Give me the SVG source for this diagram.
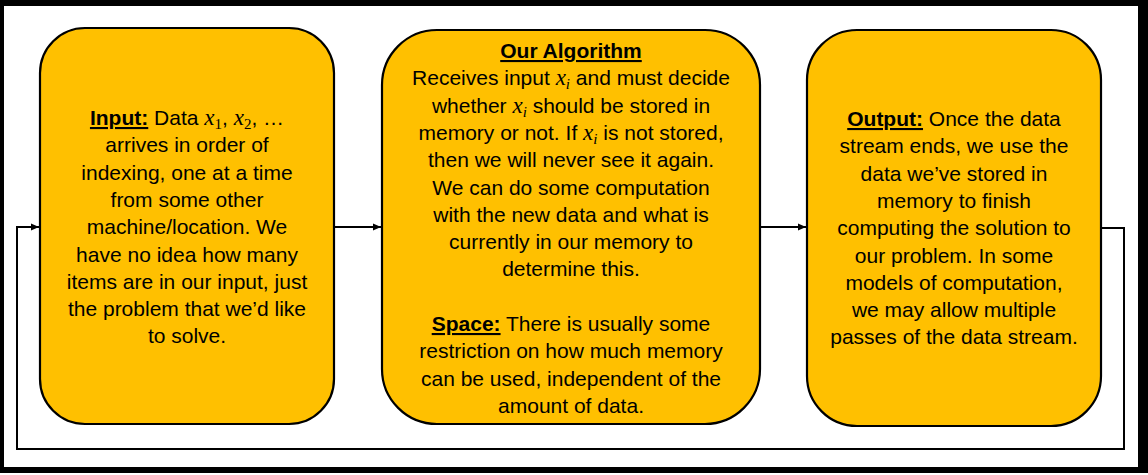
<svg xmlns="http://www.w3.org/2000/svg" width="1148" height="475" viewBox="0 0 1148 475">
<style>
.box{fill:#FFC000;stroke:#000;stroke-width:2.2}
.t{font-family:"Liberation Sans",Arial,sans-serif;font-size:21px;fill:#000;text-anchor:middle}
.h{font-weight:bold;text-decoration:underline}
.m{font-family:"Liberation Serif","Times New Roman",serif;font-style:italic;font-size:23px}
.s{font-family:"Liberation Serif","Times New Roman",serif;font-size:15px}
.si{font-family:"Liberation Serif","Times New Roman",serif;font-style:italic;font-size:15px}
.c{fill:none;stroke:#000;stroke-width:2}
</style>
<defs>
<marker id="arr" markerUnits="userSpaceOnUse" markerWidth="9" markerHeight="8" refX="8" refY="4" orient="auto">
<path d="M0,0.5 L8,4 L0,7.5 Z" fill="#000"/>
</marker>
</defs>
<rect x="0" y="0" width="1148" height="475" fill="#fff"/>
<path d="M0,0H1148V473H0Z M4,6V467H1138V6Z" fill="#000" fill-rule="evenodd"/>
<g id="connectors">
<path class="c" d="M334,227 L381,227" marker-end="url(#arr)"/>
<path class="c" d="M760,227 L806,227" marker-end="url(#arr)"/>
<path class="c" d="M1101,228 H1124 V449 H17 V227 H39" marker-end="url(#arr)"/>
</g>
<g id="input">
<rect class="box" x="40" y="28" width="294" height="396" rx="45"/>
<text class="t" x="187" y="125"><tspan class="h">Input:</tspan> Data <tspan class="m">x</tspan><tspan class="s" dy="4">1</tspan><tspan dy="-4">, </tspan><tspan class="m">x</tspan><tspan class="s" dy="4">2</tspan><tspan dy="-4">, …</tspan></text>
<text class="t" x="187" y="152.3">arrives in order of</text>
<text class="t" x="187" y="179.6">indexing, one at a time</text>
<text class="t" x="187" y="206.9">from some other</text>
<text class="t" x="187" y="234.2">machine/location. We</text>
<text class="t" x="187" y="261.5">have no idea how many</text>
<text class="t" x="187" y="288.8">items are in our input, just</text>
<text class="t" x="187" y="316.1">the problem that we’d like</text>
<text class="t" x="187" y="343.4">to solve.</text>
</g>
<g id="algorithm">
<rect class="box" x="382" y="30" width="378" height="394" rx="55"/>
<text class="t" x="571" y="58"><tspan class="h">Our Algorithm</tspan></text>
<text class="t" x="571" y="85.3">Receives input <tspan class="m">x</tspan><tspan class="si" dy="4">i</tspan><tspan dy="-4"> and must decide</tspan></text>
<text class="t" x="571" y="112.6">whether <tspan class="m">x</tspan><tspan class="si" dy="4">i</tspan><tspan dy="-4"> should be stored in</tspan></text>
<text class="t" x="571" y="139.9">memory or not. If <tspan class="m">x</tspan><tspan class="si" dy="4">i</tspan><tspan dy="-4"> is not stored,</tspan></text>
<text class="t" x="571" y="167.2">then we will never see it again.</text>
<text class="t" x="571" y="194.5">We can do some computation</text>
<text class="t" x="571" y="221.8">with the new data and what is</text>
<text class="t" x="571" y="249.1">currently in our memory to</text>
<text class="t" x="571" y="276.4">determine this.</text>
<text class="t" x="571" y="331"><tspan class="h">Space:</tspan> There is usually some</text>
<text class="t" x="571" y="358.3">restriction on how much memory</text>
<text class="t" x="571" y="385.6">can be used, independent of the</text>
<text class="t" x="571" y="412.9">amount of data.</text>
</g>
<g id="output">
<rect class="box" x="807" y="30" width="294" height="396" rx="50"/>
<text class="t" x="954" y="126"><tspan class="h">Output:</tspan> Once the data</text>
<text class="t" x="954" y="153.3">stream ends, we use the</text>
<text class="t" x="954" y="180.6">data we’ve stored in</text>
<text class="t" x="954" y="207.9">memory to finish</text>
<text class="t" x="954" y="235.2">computing the solution to</text>
<text class="t" x="954" y="262.5">our problem. In some</text>
<text class="t" x="954" y="289.8">models of computation,</text>
<text class="t" x="954" y="317.1">we may allow multiple</text>
<text class="t" x="954" y="344.4">passes of the data stream.</text>
</g>
</svg>
